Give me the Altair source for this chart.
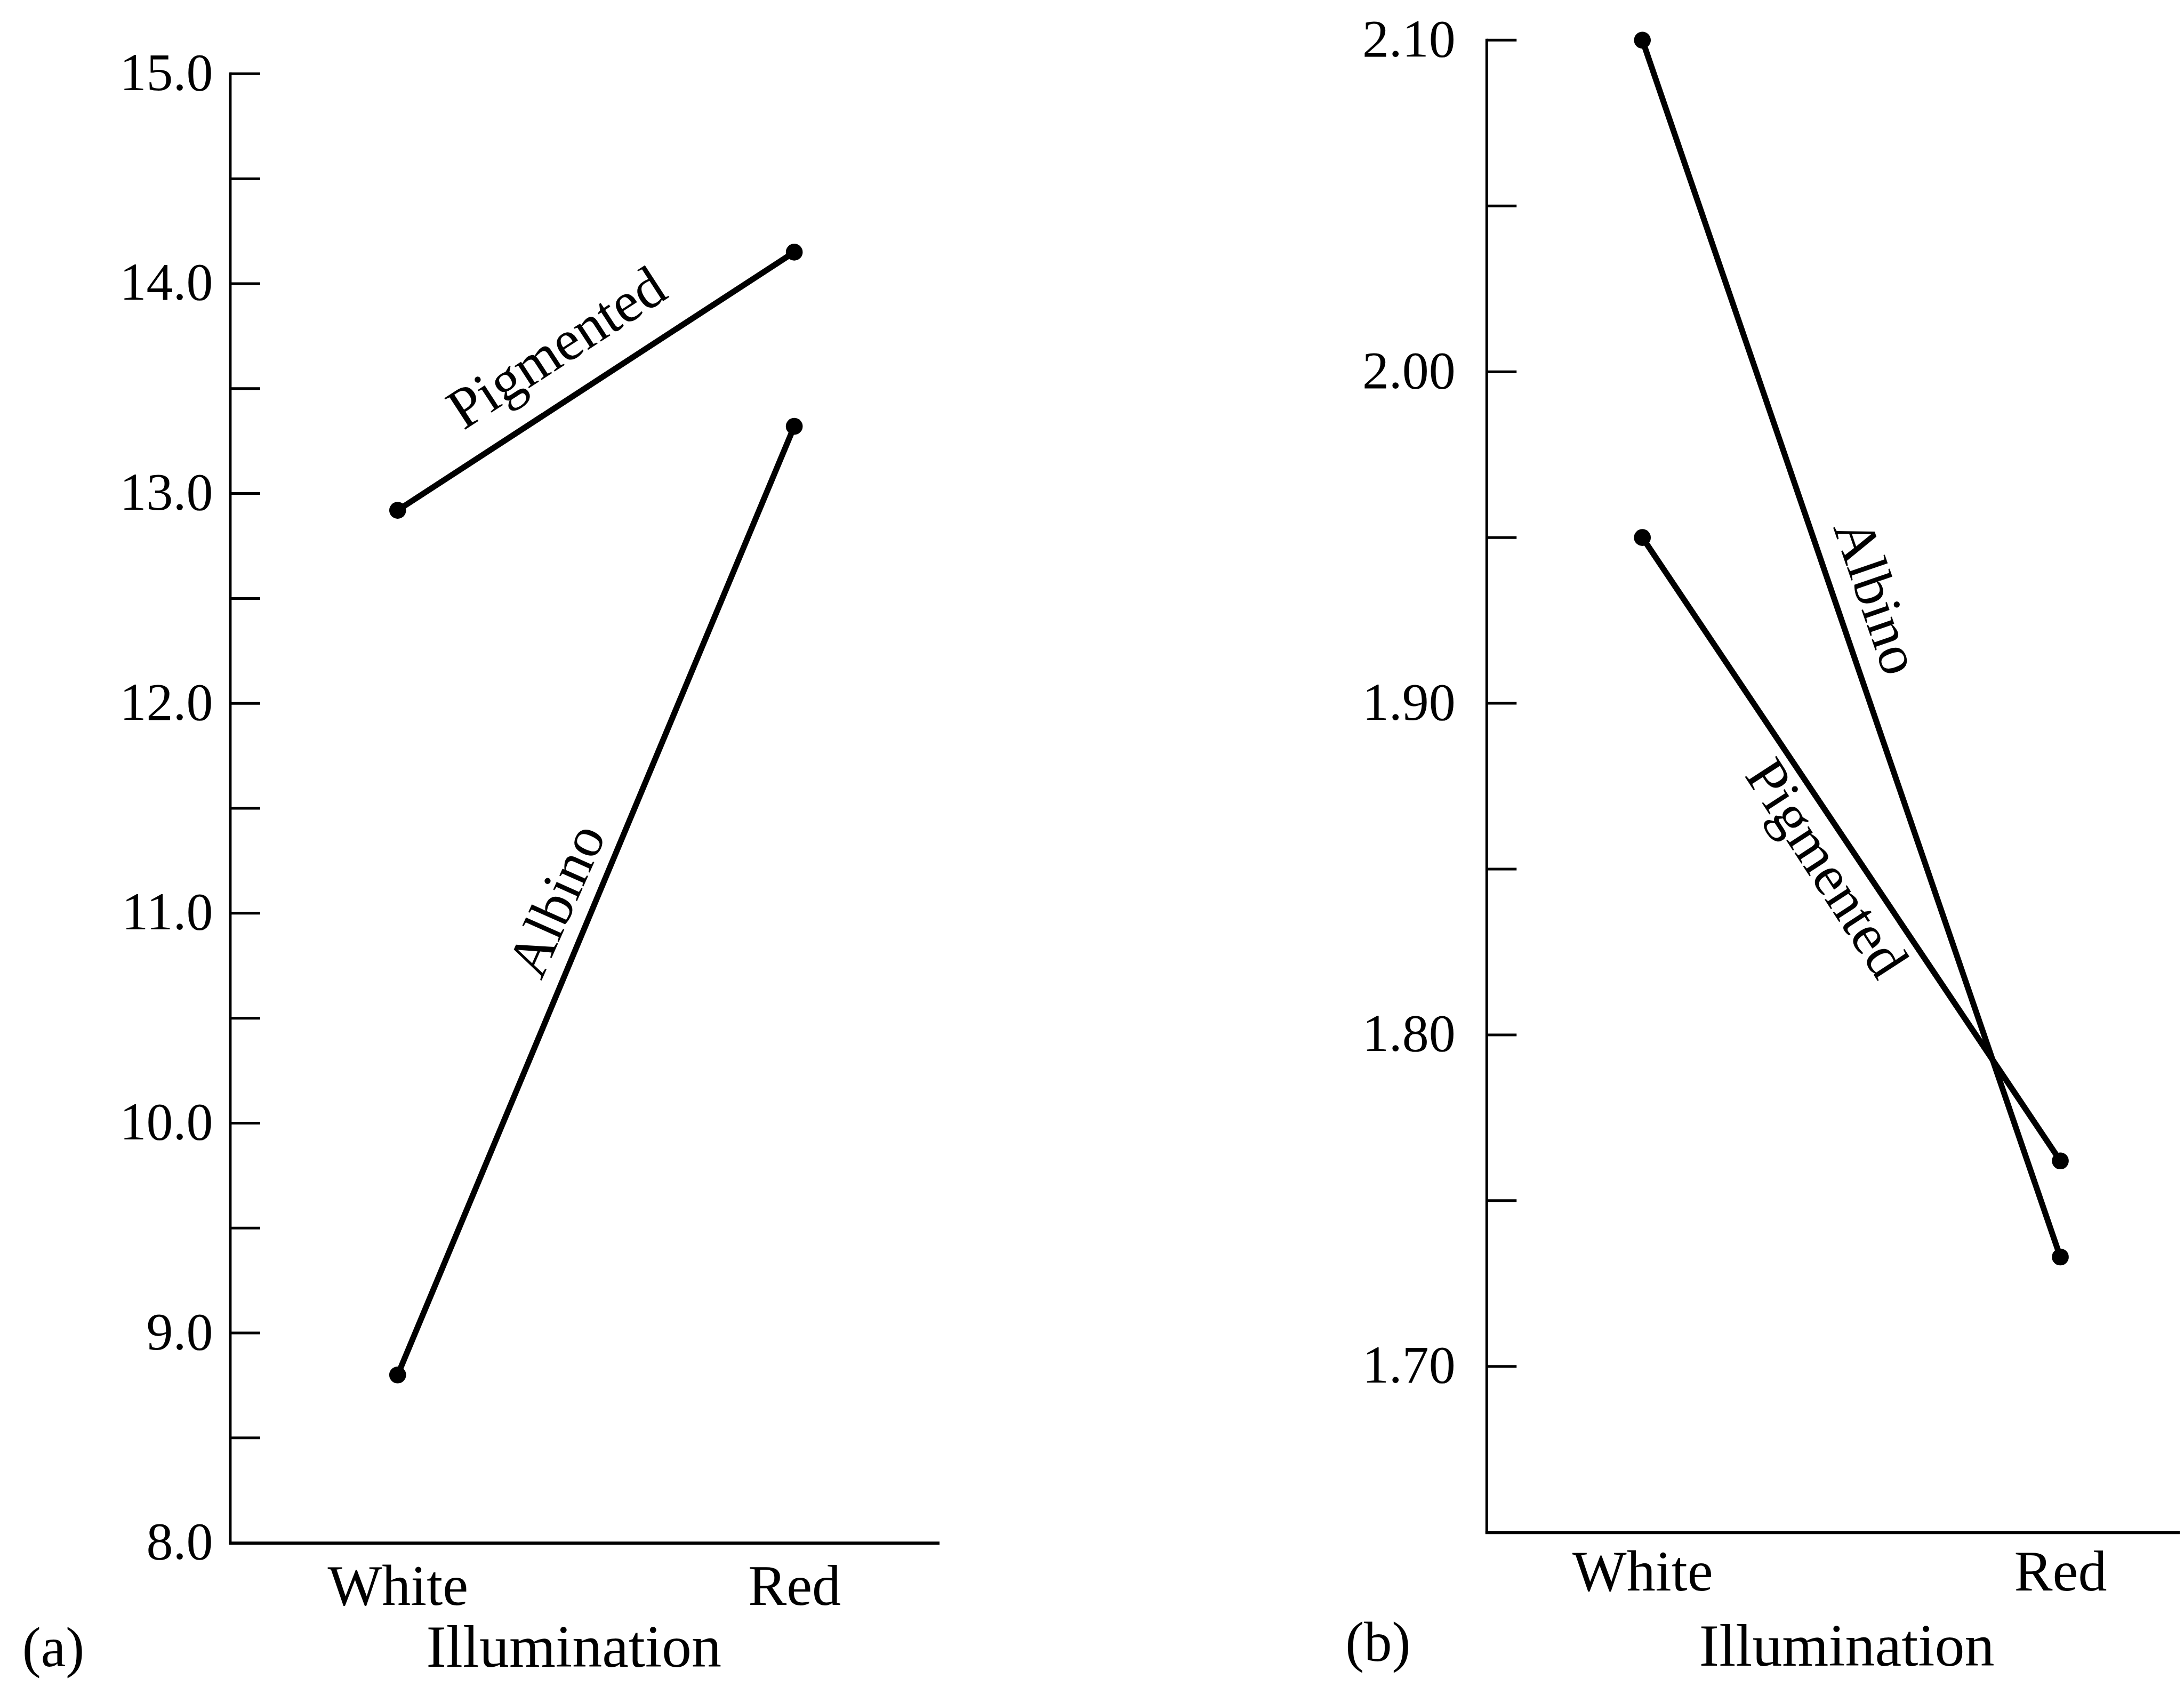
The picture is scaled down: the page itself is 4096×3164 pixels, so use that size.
import altair as alt
import pandas as pd

FONT = "Liberation Serif"

# ---------------- data ----------------
illumination = ["White", "Red"]
illum_pos = [0, 1]

# panel (a)
a_pigmented = [12.92, 14.15]
a_albino = [8.80, 13.32]
a_major = [8.0, 9.0, 10.0, 11.0, 12.0, 13.0, 14.0, 15.0]
a_ticks = [8.5, 9.0, 9.5, 10.0, 10.5, 11.0, 11.5, 12.0, 12.5, 13.0, 13.5, 14.0, 14.5, 15.0]
a_axis_span = [8.0, 15.0]
a_label_text = ["Pigmented", "Albino"]
a_label_x = [0.403, 0.405]
a_label_y = [13.687, 11.058]
a_label_angle = [327, 294]

# panel (b)
b_albino = [2.10, 1.733]
b_pigmented = [1.95, 1.762]
b_major = [1.70, 1.80, 1.90, 2.00, 2.10]
b_ticks = [1.70, 1.75, 1.80, 1.85, 1.90, 1.95, 2.00, 2.05, 2.10]
b_axis_span = [1.65, 2.10]
b_label_text = ["Albino", "Pigmented"]
b_label_x = [0.557, 0.4375]
b_label_y = [1.932, 1.850]
b_label_angle = [71, 57]


def series_frame(pig, alb):
    rows = []
    for name, vals in (("Pigmented", pig), ("Albino", alb)):
        for xi, v in zip(illum_pos, vals):
            rows.append({"x": xi, "value": v, "group": name})
    return pd.DataFrame(rows)


def panel(pig, alb, major, ticks, span, ltext, lx, ly, lang, tag,
          ydomain, xdomain, fmt, W, H, lab_pad, xlab_pad, title_x, title_y,
          tag_x, tag_y):
    series = series_frame(pig, alb)
    tick_df = pd.DataFrame({"value": ticks})
    span_df = pd.DataFrame({"value": [span[0]], "value2": [span[1]]})
    lab_df = pd.DataFrame({"x": lx, "value": ly, "text": ltext, "angle": lang})
    tag_df = pd.DataFrame({"text": [tag]})

    xs = alt.Scale(domain=xdomain, nice=False, zero=False)
    ys = alt.Scale(domain=ydomain, nice=False, zero=False)

    x_axis = alt.Axis(
        values=illum_pos,
        labelExpr="datum.value == 0 ? '%s' : '%s'" % (illumination[0], illumination[1]),
        ticks=False, tickSize=0, grid=False,
        domain=True, domainColor="black", domainWidth=6, domainCap="square",
        labelFont=FONT, labelFontSize=108, labelColor="black",
        labelBaseline="alphabetic", labelPadding=xlab_pad, labelAngle=0,
        labelFlush=False, labelOverlap=False, labelLimit=0,
        title="Illumination", titleFont=FONT, titleFontSize=112,
        titleFontWeight="normal", titleColor="black",
        titleBaseline="alphabetic", titleAlign="center", titleLimit=0,
        titleX=title_x, titleY=title_y,
    )
    y_axis = alt.Axis(
        values=major, format=fmt, ticks=False, tickSize=0, grid=False,
        domain=False, labelFont=FONT, labelFontSize=100, labelColor="black",
        labelPadding=lab_pad, labelFlush=False, labelOverlap=False,
        labelLimit=0, title=None,
    )

    lines = alt.Chart(series).mark_line(color="black", strokeWidth=11, strokeCap="round").encode(
        x=alt.X("x:Q", scale=xs, axis=x_axis),
        y=alt.Y("value:Q", scale=ys, axis=y_axis),
        detail="group:N",
    )
    pts = alt.Chart(series).mark_circle(color="black", size=1000, opacity=1).encode(
        x="x:Q", y="value:Q"
    )
    tick_rules = alt.Chart(tick_df).mark_rule(color="black", strokeWidth=5).encode(
        x=alt.value(0), x2=alt.value(56), y="value:Q"
    )
    yline = alt.Chart(span_df).mark_rule(color="black", strokeWidth=5, strokeCap="square").encode(
        x=alt.value(0), y="value:Q", y2="value2:Q"
    )
    labels = alt.Chart(lab_df).mark_text(
        font=FONT, fontSize=108, color="black", align="center", baseline="middle"
    ).encode(
        x="x:Q", y="value:Q", text="text:N", angle=alt.Angle("angle:Q", scale=None)
    )
    tag_mark = alt.Chart(tag_df).mark_text(
        font=FONT, fontSize=105, color="black", align="center", baseline="middle"
    ).encode(x=alt.value(tag_x), y=alt.value(tag_y), text="text:N")

    return alt.layer(lines, yline, tick_rules, pts, labels, tag_mark).properties(
        width=W, height=H,
        view=alt.ViewBackground(stroke="transparent", strokeWidth=0, fill="white"),
    )


left = panel(a_pigmented, a_albino, a_major, a_ticks, a_axis_span,
             a_label_text, a_label_x, a_label_y, a_label_angle, "(a)",
             ydomain=[8.0, 15.16], xdomain=[-0.422, 1.3616], fmt=".1f",
             W=1327, H=2819, lab_pad=33, xlab_pad=116, title_x=644, title_y=232,
             tag_x=-332, tag_y=3018)

right = panel(b_pigmented, b_albino, b_major, b_ticks, b_axis_span,
              b_label_text, b_label_x, b_label_y, b_label_angle, "(b)",
              ydomain=[1.65, 2.10], xdomain=[-0.3724, 1.2857], fmt=".2f",
              W=1300, H=2799, lab_pad=59, xlab_pad=109, title_x=675, title_y=250,
              tag_x=-204, tag_y=3008)

chart = alt.hconcat(left, right, spacing=1030, bounds="flush").properties(
    padding={"left": 33, "top": 17, "right": 0, "bottom": 8}
).configure_view(stroke="transparent", strokeWidth=0).configure(background="white")

chart.save("out.html", embed_options={"renderer": "svg", "actions": False})
